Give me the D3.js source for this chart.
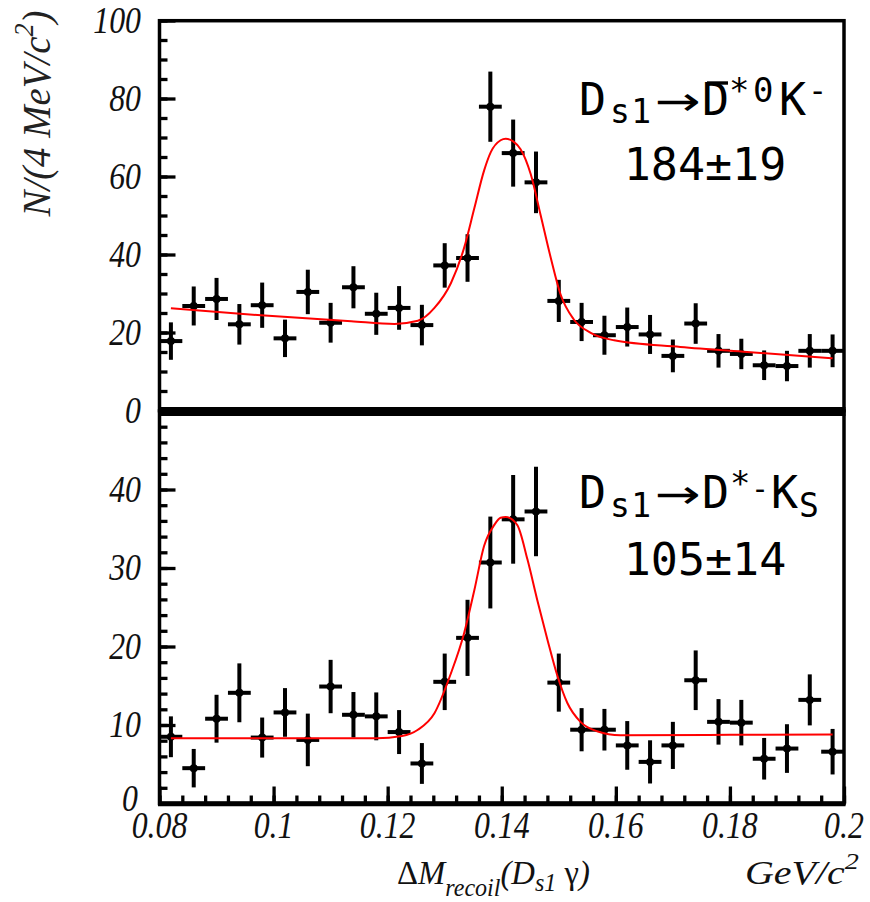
<!DOCTYPE html>
<html><head><meta charset="utf-8">
<script src="https://cdn.jsdelivr.net/npm/d3@7"></script>
<style>body{margin:0;background:#fff} svg{display:block}</style>
</head><body>
<svg id="c" width="870" height="902"></svg>
<script>
// ---- data ----
const binCenters = [0.082,0.086,0.090,0.094,0.098,0.102,0.106,0.110,0.114,0.118,
                    0.122,0.126,0.130,0.134,0.138,0.142,0.146,0.150,0.154,0.158,
                    0.162,0.166,0.170,0.174,0.178,0.182,0.186,0.190,0.194,0.198];
const binHalfWidth = 0.002;
const topCounts = [17.8,26.8,28.6,22.1,27.0,18.5,30.4,22.5,31.6,24.8,
                   26.3,21.9,37.2,39.1,77.9,66.0,58.5,28.1,22.7,19.3,
                   21.4,19.5,14.0,22.3,15.3,14.5,11.6,11.4,15.3,15.3];
const topErrors = [4.8,5.0,5.4,5.2,5.8,4.8,5.7,5.1,5.4,5.4,
                   5.6,5.2,5.7,6.1,9.0,8.6,7.9,5.4,4.9,5.0,
                   5.0,5.0,4.2,5.2,4.3,3.9,3.8,3.9,4.3,4.2];
const botCounts = [8.5,4.5,10.8,14.1,8.4,11.6,8.1,14.9,11.3,11.1,
                   9.1,5.1,15.5,21.1,30.7,36.2,37.2,15.4,9.4,9.4,
                   7.4,5.3,7.4,15.7,10.4,10.3,5.7,7.0,13.2,6.6];
const botErrors = [2.6,2.45,3.05,3.75,2.55,3.1,3.35,3.4,2.9,3.05,
                   2.8,2.6,3.6,4.85,5.85,5.65,5.7,3.7,2.75,2.65,
                   3.1,2.75,3.0,3.8,2.9,2.9,2.65,3.1,3.25,2.9];
const topFitX = [0.082,0.0978,0.1136,0.1212,0.1253,0.1282,0.1311,0.1334,0.1352,0.1369,0.1381,0.1398,0.1407,0.1420,0.1433,0.1451,0.1468,0.1486,0.1503,0.1526,0.1556,0.1597,0.1713,0.1830,0.1980];
const topFitY = [26.2,24.4,22.9,22.2,23.0,26.3,32.7,41.7,51.9,61.5,66.3,69.3,69.7,69.0,67.0,60.5,50.2,39.1,29.8,23.4,19.9,18.0,16.3,15.0,13.4];
const botFitX = [0.082,0.100,0.118,0.1225,0.1253,0.1282,0.1311,0.1334,0.1352,0.1369,0.1387,0.1398,0.1407,0.1427,0.1445,0.1462,0.1480,0.1497,0.1515,0.1538,0.1567,0.1608,0.1800,0.1980];
const botFitY = [8.3,8.3,8.3,8.6,9.4,11.5,16.6,21.7,27.2,32.8,35.5,36.4,36.5,35.5,31.1,26.0,20.9,16.4,12.8,10.4,9.2,8.7,8.75,8.8];
const xTickValues = [0.08,0.10,0.12,0.14,0.16,0.18,0.20];
const xTickLabels = ["0.08","0.1","0.12","0.14","0.16","0.18","0.2"];
const topYTickValues = [0,20,40,60,80,100];
const botYTickValues = [0,10,20,30,40];
const topYield = "184±19";
const botYield = "105±14";

// ---- layout ----
const svg = d3.select("#c");
const x = d3.scaleLinear().domain([0.08,0.20]).range([159.5,844]);
const yTop = d3.scaleLinear().domain([0,100]).range([410.5,20.5]);
const yBot = d3.scaleLinear().domain([0,50]).range([803.5,411]);

function axisStyle(g){
  g.select(".domain").remove();
  g.selectAll(".tick line").attr("stroke","#000").attr("stroke-width",3.3);
}
function leftTicks(scale, majors, minorStep, maxV){
  const minors = d3.range(0, maxV+0.001, minorStep);
  svg.append("g").attr("transform","translate(159.5,0)")
    .call(d3.axisLeft(scale).tickValues(minors).tickSize(-8).tickFormat(""))
    .call(axisStyle);
  svg.append("g").attr("transform","translate(159.5,0)")
    .call(d3.axisLeft(scale).tickValues(majors).tickSize(-16).tickFormat(""))
    .call(axisStyle);
}
leftTicks(yTop, topYTickValues, 5, 100);
leftTicks(yBot, botYTickValues, 2, 50);
{
  const minors = d3.range(0, 31).map(i => 0.08 + i*0.004);
  svg.append("g").attr("transform","translate(0,803.5)")
    .call(d3.axisBottom(x).tickValues(minors).tickSize(-8).tickFormat(""))
    .call(axisStyle);
  svg.append("g").attr("transform","translate(0,803.5)")
    .call(d3.axisBottom(x).tickValues(xTickValues).tickSize(-17).tickFormat(""))
    .call(axisStyle);
}

// frames
svg.append("rect").attr("x",159.5).attr("y",20.7).attr("width",684.5).attr("height",390)
  .attr("fill","none").attr("stroke","#000").attr("stroke-width",3.5);
svg.append("rect").attr("x",159.5).attr("y",411).attr("width",684.5).attr("height",392.5)
  .attr("fill","none").attr("stroke","#000").attr("stroke-width",3.5);
svg.append("line").attr("x1",158).attr("x2",845.5).attr("y1",803.8).attr("y2",803.8)
  .attr("stroke","#000").attr("stroke-width",5);
svg.append("line").attr("x1",158).attr("x2",845.5).attr("y1",yTop(0)+1).attr("y2",yTop(0)+1)
  .attr("stroke","#000").attr("stroke-width",9);

// data & fits
function panel(counts, errors, fx, fy, y){
  const pts = binCenters.map((c,i)=>({c, v:counts[i], e:errors[i]}));
  const g = svg.append("g");
  g.selectAll(".v").data(pts).join("line")
    .attr("x1",d=>x(d.c)).attr("x2",d=>x(d.c))
    .attr("y1",d=>y(d.v-d.e)).attr("y2",d=>y(d.v+d.e))
    .attr("stroke","#000").attr("stroke-width",4);
  g.selectAll(".h").data(pts).join("line")
    .attr("x1",d=>x(d.c-binHalfWidth)).attr("x2",d=>x(d.c+binHalfWidth))
    .attr("y1",d=>y(d.v)).attr("y2",d=>y(d.v))
    .attr("stroke","#000").attr("stroke-width",4);
  g.selectAll("circle").data(pts).join("circle")
    .attr("cx",d=>x(d.c)).attr("cy",d=>y(d.v)).attr("r",4).attr("fill","#000");
  const line = d3.line().x(d=>x(d[0])).y(d=>y(d[1])).curve(d3.curveMonotoneX);
  svg.append("path").datum(fx.map((v,i)=>[v,fy[i]])).attr("d",line)
    .attr("fill","none").attr("stroke","#ff0000").attr("stroke-width",2);
}
panel(topCounts, topErrors, topFitX, topFitY, yTop);
panel(botCounts, botErrors, botFitX, botFitY, yBot);

// tick labels
const serif = "'Liberation Serif','Times New Roman',serif";
function tickLabel(txt, px, py, anchor){
  svg.append("text").text(txt)
    .attr("transform",`translate(${px},${py}) scale(0.86,1)`)
    .attr("text-anchor",anchor).attr("font-family",serif).attr("font-style","italic")
    .attr("font-size",37).attr("fill","#111");
}
topYTickValues.forEach(v=>tickLabel(String(v), 141, yTop(v)+12, "end"));
botYTickValues.forEach(v=>tickLabel(String(v), v===0 ? 138 : 141, v===0 ? yBot(v)+7 : yBot(v)+12, "end"));
xTickValues.forEach((v,i)=>tickLabel(xTickLabels[i], x(v), 838, "middle"));

function fitWidth(t, x0, w, anchor){
  const bb = t.node().getBBox();
  const s = w / bb.width;
  const ax = anchor==="start" ? bb.x : (anchor==="end" ? bb.x+bb.width : bb.x+bb.width/2);
  t.attr("transform",`translate(${x0},0) scale(${s},1) translate(${-ax},0)`);
}

// x title
{
  const t = svg.append("text").attr("x",397).attr("y",884)
    .attr("font-family",serif).attr("font-style","italic").attr("font-size",34).attr("fill","#111");
  t.append("tspan").attr("font-style","normal").text("Δ");
  t.append("tspan").text("M");
  t.append("tspan").attr("font-size",25).attr("dy",12).text("recoil");
  t.append("tspan").attr("dy",-12).text("(D");
  t.append("tspan").attr("font-size",25).attr("dy",7).text("s1");
  t.append("tspan").attr("dy",-7).text(" ");
  t.append("tspan").attr("font-style","normal").text("γ");
  t.append("tspan").text(")");
  fitWidth(t, 397, 193, "start");
  const u = svg.append("text").attr("x",745).attr("y",884)
    .attr("font-family",serif).attr("font-style","italic").attr("font-size",34).attr("fill","#111");
  u.append("tspan").text("GeV/c");
  u.append("tspan").attr("font-size",24).attr("dy",-15).text("2");
  fitWidth(u, 745, 114, "start");
}
// y title
{
  const g = svg.append("g").attr("transform","translate(50,113.5) rotate(-90)");
  const t = g.append("text").attr("x",0).attr("y",0).attr("text-anchor","middle")
    .attr("font-family",serif).attr("font-style","italic").attr("font-size",40).attr("fill","#222");
  t.append("tspan").text("N/(4 MeV/c");
  t.append("tspan").attr("font-size",27).attr("dy",-17).text("2");
  t.append("tspan").attr("dy",17).text(")");
  const bb = t.node().getBBox();
  t.attr("transform",`scale(${207/bb.width},1)`);
}

// decay labels
const mono = "'DejaVu Sans Mono',monospace";
function part(t, txt, px, py, size, ls){
  const s = t.append("tspan").attr("x",px).attr("y",py).attr("font-size",size).text(txt);
  if (ls) s.attr("letter-spacing",ls);
}
function arrow(left, base){
  const a = svg.append("text").attr("x",0).attr("y",base).attr("font-family","'DejaVu Sans',sans-serif")
    .attr("font-size",40).attr("fill","#000").text("→");
  fitWidth(a, left, 46, "start");
}
{
  const t = svg.append("text").attr("fill","#000").attr("font-family",mono);
  part(t,"D",579,115,45);
  part(t,"s1",610,123,33,1.5);
  part(t,"D",702,115,45);
  part(t,"*",729,102,34);
  part(t,"0",753,102,34);
  part(t,"K",779,115,45);
  part(t,"-",808,102,32);
  arrow(655,115);
  svg.append("line").attr("x1",707).attr("x2",728).attr("y1",83).attr("y2",83)
    .attr("stroke","#000").attr("stroke-width",3.4);
  svg.append("text").attr("x",705).attr("y",180).attr("text-anchor","middle")
    .attr("font-family",mono).attr("font-size",45).attr("fill","#000").text(topYield);
}
{
  const t = svg.append("text").attr("fill","#000").attr("font-family",mono);
  part(t,"D",579,508,45);
  part(t,"s1",610,517,33,1.5);
  part(t,"D",702,508,45);
  part(t,"*",730,495,34);
  part(t,"-",751,499,30);
  part(t,"K",771,508,45);
  part(t,"S",799,517,33);
  arrow(655,508);
  svg.append("text").attr("x",705).attr("y",575).attr("text-anchor","middle")
    .attr("font-family",mono).attr("font-size",45).attr("fill","#000").text(botYield);
}
</script>
</body></html>
